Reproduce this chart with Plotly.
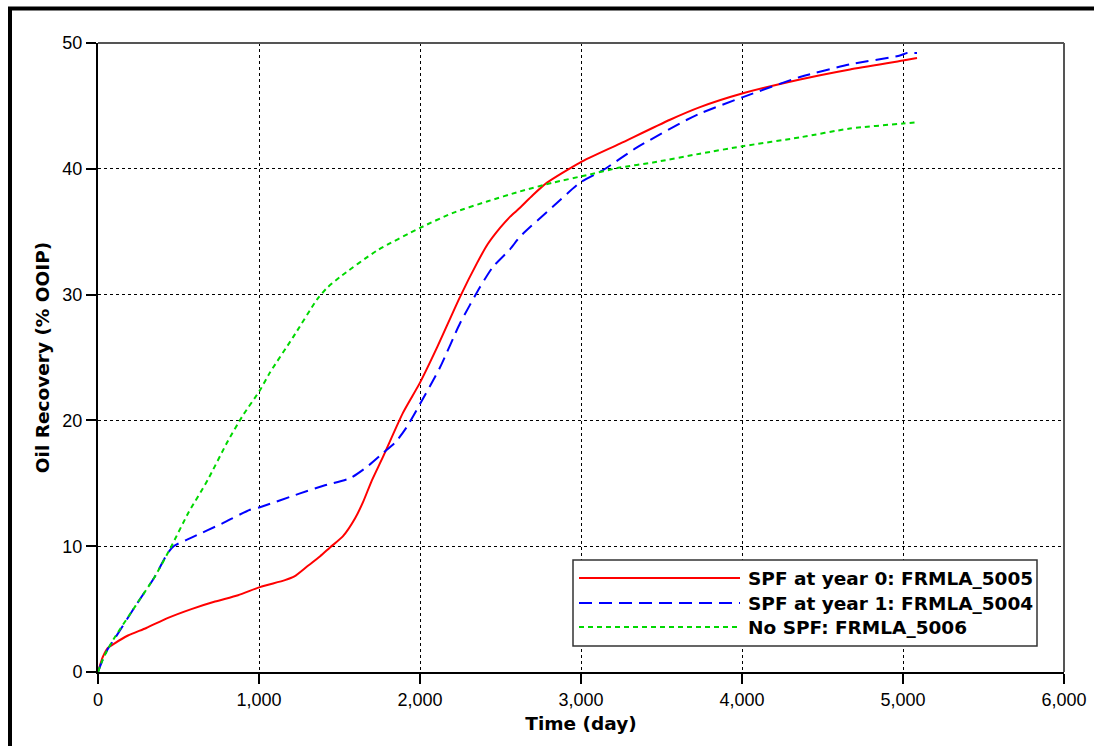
import plotly.graph_objects as go

# ---- data ----
red_day = [0, 30, 60, 106, 186, 300, 435, 580, 727, 870, 1006, 1161, 1220, 1300, 1380, 1441, 1522,
           1596, 1646, 1700, 1770, 1894, 2000, 2106, 2248, 2354, 2420, 2497, 2560, 2621, 2700,
           2789, 2994, 3242, 3553, 3739, 4006, 4360, 4671, 5000, 5087]
red_val = [0, 1.2, 1.9, 2.3, 2.9, 3.5, 4.3, 5.0, 5.6, 6.1, 6.75, 7.3, 7.6, 8.4, 9.2, 9.9, 10.8,
           12.2, 13.5, 15.2, 17.1, 20.6, 23.0, 25.8, 29.8, 32.5, 34.0, 35.3, 36.2, 36.9, 37.9,
           38.9, 40.5, 42.0, 43.9, 44.9, 46.0, 47.1, 47.9, 48.6, 48.8]

blue_day = [0, 30, 60, 106, 230, 354, 430, 470, 584, 770, 944, 1006, 1255, 1400, 1565, 1680,
            1770, 1850, 1919, 2000, 2124, 2248, 2373, 2453, 2559, 2621, 2826, 2994, 3137, 3348,
            3658, 3739, 4006, 4360, 4671, 4981, 5025, 5087]
blue_val = [0, 1.0, 1.8, 2.7, 5.2, 7.6, 9.4, 10.0, 10.7, 11.8, 12.9, 13.1, 14.2, 14.8, 15.4, 16.4,
            17.4, 18.3, 19.5, 21.3, 24.2, 27.7, 30.6, 32.2, 33.6, 34.6, 37.0, 38.9, 39.9, 41.7,
            43.9, 44.4, 45.7, 47.3, 48.3, 49.0, 49.2, 49.2]

green_day = [0, 30, 60, 106, 230, 354, 460, 559, 683, 800, 900, 1006, 1068, 1211, 1360, 1420,
             1503, 1733, 2000, 2205, 2416, 2621, 2826, 3037, 3242, 3447, 3739, 4006, 4360,
             4671, 5000, 5087]
green_val = [0, 1.0, 1.8, 2.8, 5.2, 7.6, 10.1, 12.6, 15.3, 18.2, 20.4, 22.4, 23.8, 26.6, 29.6, 30.5,
             31.4, 33.5, 35.3, 36.5, 37.4, 38.2, 38.9, 39.5, 40.1, 40.5, 41.2, 41.8, 42.5,
             43.2, 43.6, 43.7]

series_names = ["SPF at year 0: FRMLA_5005", "SPF at year 1: FRMLA_5004", "No SPF: FRMLA_5006"]
x_ticks = [0, 1000, 2000, 3000, 4000, 5000, 6000]
y_ticks = [0, 10, 20, 30, 40, 50]

# ---- styles ----
RED, BLUE, GREEN = "#ff0000", "#0000ff", "#00d800"
DASH_BLUE = "13px,7px"
DASH_GREEN = "5px,4px"
TICK_FONT = dict(family="Liberation Sans, Arial, sans-serif", size=18, color="black")
BOLD_FONT = dict(family="DejaVu Sans, sans-serif", size=18.5, color="black", weight="bold")

fig = go.Figure()
fig.add_trace(go.Scatter(x=red_day, y=red_val, mode="lines", name=series_names[0],
                         line=dict(color=RED, width=2, shape="spline", smoothing=0.6)))
fig.add_trace(go.Scatter(x=blue_day, y=blue_val, mode="lines", name=series_names[1],
                         line=dict(color=BLUE, width=2, dash=DASH_BLUE, shape="spline", smoothing=0.6)))
fig.add_trace(go.Scatter(x=green_day, y=green_val, mode="lines", name=series_names[2],
                         line=dict(color=GREEN, width=2, dash=DASH_GREEN, shape="spline", smoothing=0.6)))

W, H = 1094, 746
L, R, T, B = 98, 30, 43, 74
pw, ph = W - L - R, H - T - B


def px2x(px):
    return (px - L) / pw


def py2y(py):
    return (H - B - py) / ph


fig.update_layout(
    width=W, height=H,
    margin=dict(l=L, r=R, t=T, b=B, pad=0, autoexpand=False),
    paper_bgcolor="white", plot_bgcolor="white",
    showlegend=False,
    xaxis=dict(range=[0, 6000], tickvals=x_ticks, tickformat=",d", automargin=False,
               showgrid=True, gridcolor="black", gridwidth=1, griddash="3px,3px",
               zeroline=False, showline=True, linecolor="black", linewidth=2,
               ticks="outside", ticklen=10, tickwidth=2, tickcolor="black",
               tickfont=TICK_FONT,
               title=dict(text="Time (day)", font=BOLD_FONT, standoff=8)),
    yaxis=dict(range=[0, 50], tickvals=y_ticks, automargin=False,
               showgrid=True, gridcolor="black", gridwidth=1, griddash="3px,3px",
               zeroline=False, showline=True, linecolor="black", linewidth=2,
               ticks="outside", ticklen=10, tickwidth=2, tickcolor="black",
               tickfont=TICK_FONT,
               title=dict(text="Oil Recovery (% OOIP)", font=BOLD_FONT, standoff=8)),
)

shapes = []
# plot-area top and right border (gray)
shapes.append(dict(type="line", xref="paper", yref="paper", x0=0, x1=1, y0=1, y1=1,
                   line=dict(color="#555555", width=2), layer="above"))
shapes.append(dict(type="line", xref="paper", yref="paper", x0=1, x1=1, y0=0, y1=1,
                   line=dict(color="#555555", width=2), layer="above"))
# outer figure frame (top and left, thick black)
shapes.append(dict(type="line", xref="paper", yref="paper", x0=px2x(8), x1=px2x(W + 5),
                   y0=py2y(8.5), y1=py2y(8.5), line=dict(color="black", width=4), layer="above"))
shapes.append(dict(type="line", xref="paper", yref="paper", x0=px2x(10), x1=px2x(10),
                   y0=py2y(7), y1=py2y(H + 5), line=dict(color="black", width=4), layer="above"))
# legend box
shapes.append(dict(type="rect", xref="paper", yref="paper", x0=px2x(573), x1=px2x(1037),
                   y0=py2y(646), y1=py2y(560), fillcolor="white",
                   line=dict(color="#333333", width=1.5), layer="above"))
legend_rows = [578, 603, 627]
legend_styles = [dict(color=RED, width=2), dict(color=BLUE, width=2, dash=DASH_BLUE),
                 dict(color=GREEN, width=2, dash=DASH_GREEN)]
annotations = []
for name, row, st in zip(series_names, legend_rows, legend_styles):
    shapes.append(dict(type="line", xref="paper", yref="paper", x0=px2x(579), x1=px2x(740),
                       y0=py2y(row), y1=py2y(row), line=st, layer="above"))
    annotations.append(dict(text=name, xref="paper", yref="paper", x=px2x(746), y=py2y(row),
                            xanchor="left", yanchor="middle", showarrow=False, font=BOLD_FONT))

fig.update_layout(shapes=shapes, annotations=annotations)

fig.write_html("out.html")
